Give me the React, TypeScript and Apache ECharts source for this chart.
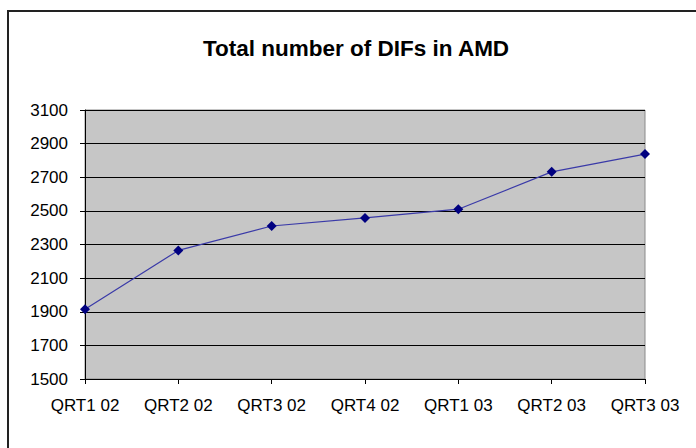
import React, { useEffect, useRef } from "react";
import * as echarts from "echarts";

const titleText = "Total number of DIFs in AMD";
const categories = ["QRT1 02", "QRT2 02", "QRT3 02", "QRT4 02", "QRT1 03", "QRT2 03", "QRT3 03"];
const difCounts = [1915, 2265, 2410, 2458, 2510, 2732, 2838];
const yMin = 1500;
const yMax = 3100;
const yStep = 200;

export default function App() {
  const ref = useRef<HTMLDivElement>(null);
  useEffect(() => {
    if (!ref.current) return;
    const chart = echarts.init(ref.current, undefined, { renderer: "svg" });
    const font = "'Liberation Sans', Arial, sans-serif";
    chart.setOption({
      animation: false,
      backgroundColor: "#ffffff",
      title: {
        text: titleText,
        left: 351,
        top: 32,
        textAlign: "center",
        textStyle: { fontFamily: font, fontSize: 22.5, fontWeight: "bold", color: "#000" },
      },
      graphic: [
        {
          type: "rect",
          shape: { x: 8, y: 11, width: 720, height: 460 },
          style: { fill: "none", stroke: "#222", lineWidth: 2 },
          z: 100,
        },
      ],
      grid: {
        left: 85,
        right: 51,
        top: 110,
        bottom: 69,
        show: true,
        backgroundColor: "#c6c6c6",
        borderColor: "#8a8a8a",
        borderWidth: 1,
      },
      xAxis: {
        type: "category",
        data: categories,
        boundaryGap: false,
        axisLine: { show: true, lineStyle: { color: "#000", width: 1 } },
        axisTick: { show: true, length: 5, inside: false, lineStyle: { color: "#000" } },
        axisLabel: { margin: 18, fontFamily: font, fontSize: 17, color: "#000" },
        splitLine: { show: false },
      },
      yAxis: {
        type: "value",
        min: yMin,
        max: yMax,
        interval: yStep,
        axisLine: { show: true, lineStyle: { color: "#000", width: 1 } },
        axisTick: { show: true, length: 5, lineStyle: { color: "#000" } },
        axisLabel: {
          margin: 17,
          fontFamily: font,
          fontSize: 17,
          color: "#000",
          formatter: (v: number) => String(v),
        },
        splitLine: { show: true, lineStyle: { color: "#000", width: 1.2 } },
      },
      series: [
        {
          type: "line",
          data: difCounts,
          symbol: "diamond",
          symbolSize: 10,
          itemStyle: { color: "#000080" },
          lineStyle: { color: "#3a3aa8", width: 1.2 },
        },
      ],
    });
    return () => chart.dispose();
  }, []);
  return (
    <div
      ref={ref}
      style={{ position: "fixed", left: 0, top: 0, width: 696, height: 448 }}
    />
  );
}
